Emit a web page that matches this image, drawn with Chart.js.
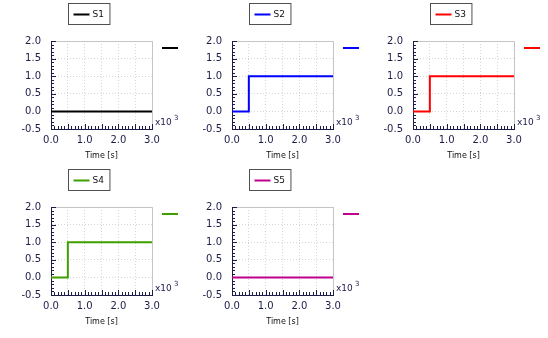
<!DOCTYPE html>
<html>
<head>
<meta charset="utf-8">
<script src="https://cdn.jsdelivr.net/npm/chart.js@4.4.0/dist/chart.umd.min.js"></script>
<style>
html, body { margin: 0; padding: 0; background: #fff; }
#wrap { position: relative; width: 548px; height: 338px; overflow: hidden; }
.panel { position: absolute; width: 181px; height: 168px; }
</style>
</head>
<body>
<div id="wrap"></div>
<script>
// 数据：时间 [s]，各信号阶跃
var timeS = [0, 500, 500, 3000];
var s1 = [0, 0, 0, 0];
var s2 = [0, 0, 1, 1];
var s3 = [0, 0, 1, 1];
var s4 = [0, 0, 1, 1];
var s5 = [0, 0, 0, 0];
var seriesNames = ['S1', 'S2', 'S3', 'S4', 'S5'];
var seriesValues = [s1, s2, s3, s4, s5];
var seriesColors = ['#000000', '#0000ff', '#ff0000', '#3f9f00', '#c0008c'];
var xLabelValues = [0, 1000, 2000, 3000];
var yMin = -0.5, yMax = 2.0, yStep = 0.5;
var xMin = 0, xMax = 3000, xStep = 500;

var panelPos = [[0, 0], [181, 0], [362, 0], [0, 166], [181, 166]];
var tickColor = '#1c1c48';

Chart.defaults.font.family = 'DejaVu Sans';
Chart.defaults.color = tickColor;

// 边框、次刻度、图例框、右侧短线、x10^3
var panelDecor = {
    id: 'panelDecor',
    beforeDatasetsDraw: function(chart) {
        var a = chart.chartArea;
        var ctx = chart.ctx;
        var xs = chart.scales.x;
        var ys = chart.scales.y;
        ctx.save();
        ctx.strokeStyle = '#c4c4c4';
        ctx.lineWidth = 1;
        ctx.beginPath();
        ctx.moveTo(a.left, Math.round(a.top) + 0.5);
        ctx.lineTo(Math.round(a.right) + 0.5, Math.round(a.top) + 0.5);
        ctx.lineTo(Math.round(a.right) + 0.5, a.bottom);
        ctx.stroke();

        ctx.strokeStyle = tickColor;
        ctx.beginPath();
        var i, p, len;
        for (i = 0; i <= 25; i++) {
            p = Math.round(ys.getPixelForValue(yMin + i * 0.1)) + 0.5;
            len = i % 5 === 0 ? 5 : 3;
            ctx.moveTo(a.left, p);
            ctx.lineTo(a.left + len, p);
        }
        for (i = 0; i <= 30; i++) {
            p = Math.round(xs.getPixelForValue(xMin + i * 100)) + 0.5;
            len = i % 5 === 0 ? 5 : 3;
            ctx.moveTo(p, a.bottom);
            ctx.lineTo(p, a.bottom - len);
        }
        ctx.stroke();
        ctx.restore();
    },
    afterDraw: function(chart) {
        var a = chart.chartArea;
        var ctx = chart.ctx;
        var ds = chart.data.datasets[0];
        ctx.save();

        // 图例框
        ctx.font = '9px "DejaVu Sans"';
        var tw = ctx.measureText(ds.label).width;
        var bw = 5 + 16 + 4 + tw + 5;
        var bx = Math.round(chart.width / 2 - 2 - bw / 2) + 0.5;
        var by = 3.5;
        ctx.fillStyle = '#fff';
        ctx.fillRect(bx, by, bw, 21);
        ctx.strokeStyle = '#505050';
        ctx.lineWidth = 1;
        ctx.strokeRect(bx, by, bw, 21);
        ctx.strokeStyle = ds.borderColor;
        ctx.lineWidth = 2;
        ctx.beginPath();
        ctx.moveTo(bx + 5, by + 11);
        ctx.lineTo(bx + 21, by + 11);
        ctx.stroke();
        ctx.fillStyle = '#111';
        ctx.textBaseline = 'middle';
        ctx.textAlign = 'left';
        ctx.fillText(ds.label, bx + 24, by + 11);

        // 右侧短线
        ctx.beginPath();
        ctx.moveTo(a.right + 10, a.top + 7);
        ctx.lineTo(a.right + 26, a.top + 7);
        ctx.stroke();

        // x10^3
        ctx.fillStyle = tickColor;
        ctx.font = '9px "DejaVu Sans"';
        ctx.fillText('x10', a.right + 3, a.bottom - 6);
        ctx.font = '7px "DejaVu Sans"';
        ctx.fillText('3', a.right + 22, a.bottom - 11);
        ctx.restore();
    }
};

function makePanel(idx) {
    var div = document.createElement('div');
    div.className = 'panel';
    div.style.left = panelPos[idx][0] + 'px';
    div.style.top = panelPos[idx][1] + 'px';
    var cv = document.createElement('canvas');
    div.appendChild(cv);
    document.getElementById('wrap').appendChild(div);

    var pts = timeS.map(function(t, k) { return { x: t, y: seriesValues[idx][k] }; });

    return new Chart(cv.getContext('2d'), {
        type: 'line',
        data: {
            datasets: [{
                label: seriesNames[idx],
                data: pts,
                borderColor: seriesColors[idx],
                borderWidth: 2,
                pointRadius: 0,
                fill: false,
                tension: 0
            }]
        },
        options: {
            responsive: true,
            maintainAspectRatio: false,
            animation: false,
            events: [],
            layout: { padding: { top: 41, right: 29, left: 0, bottom: 0 } },
            plugins: {
                legend: { display: false },
                tooltip: { enabled: false }
            },
            scales: {
                x: {
                    type: 'linear',
                    min: xMin,
                    max: xMax,
                    afterFit: function(s) { s.height = 39; },
                    ticks: {
                        stepSize: xStep,
                        padding: 5,
                        maxRotation: 0,
                        autoSkip: false,
                        font: { size: 10 },
                        color: tickColor,
                        callback: function(v) {
                            return xLabelValues.indexOf(v) >= 0 ? (v / 1000).toFixed(1) : '';
                        }
                    },
                    grid: { color: '#d6d6d6', drawTicks: false },
                    border: { color: tickColor, dash: [1, 2] },
                    title: {
                        display: true,
                        text: 'Time [s]',
                        color: '#111',
                        font: { size: 8 },
                        padding: { top: 0, bottom: 7 }
                    }
                },
                y: {
                    min: yMin,
                    max: yMax,
                    afterFit: function(s) { s.width = 51; },
                    ticks: {
                        stepSize: yStep,
                        padding: 10,
                        font: { size: 10 },
                        color: tickColor,
                        callback: function(v) { return v.toFixed(1); }
                    },
                    grid: { color: '#d6d6d6', drawTicks: false },
                    border: { color: tickColor, dash: [1, 2] }
                }
            }
        },
        plugins: [panelDecor]
    });
}

for (var n = 0; n < seriesNames.length; n++) {
    makePanel(n);
}
</script>
</body>
</html>
